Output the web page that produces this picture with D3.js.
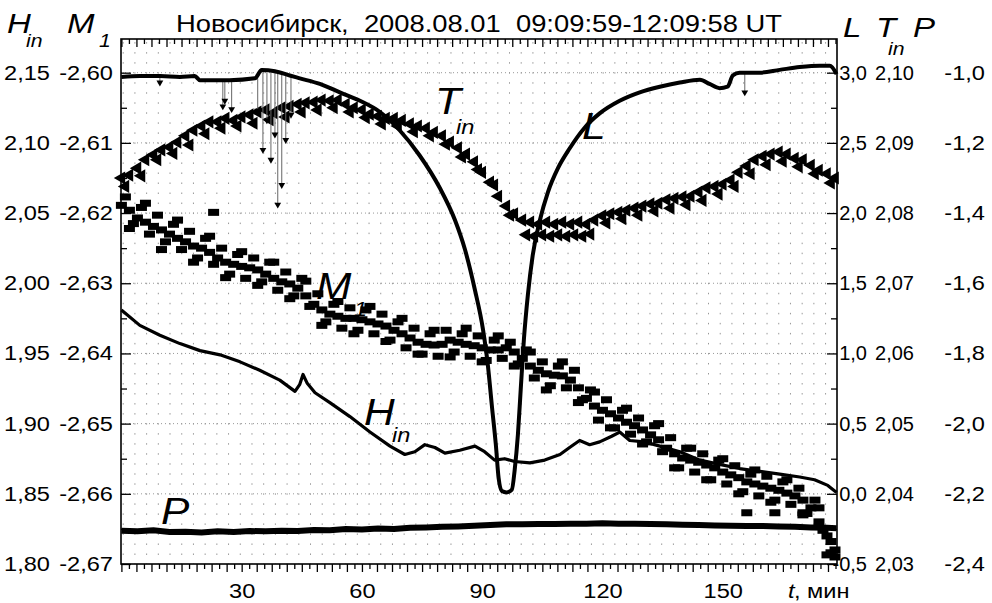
<!DOCTYPE html>
<html>
<head>
<meta charset="utf-8">
<script src="https://cdn.jsdelivr.net/npm/d3@7"></script>
<style>
body { margin: 0; background: #fff; }
text { font-family: "Liberation Sans", Arial, sans-serif; fill: #000; }
</style>
</head>
<body>
<script>
// ---- data, t in minutes from 09:09:59 UT ----
var titleText = "Новосибирск,  2008.08.01  09:09:59-12:09:58 UT";
var xLabels = [30, 60, 90, 120, 150];
var hTicks = [1.80, 1.85, 1.90, 1.95, 2.00, 2.05, 2.10, 2.15];
var mTicks = [-2.67, -2.66, -2.65, -2.64, -2.63, -2.62, -2.61, -2.60];
var lTicks = [-0.5, 0.0, 0.5, 1.0, 1.5, 2.0, 2.5, 3.0];
var tTicks = [2.03, 2.04, 2.05, 2.06, 2.07, 2.08, 2.09, 2.10];
var pTicks = [-2.4, -2.2, -2.0, -1.8, -1.6, -1.4, -1.2, -1.0];
var hMinor = [1.825, 1.875, 1.925, 1.975, 2.025, 2.075, 2.125];

// L (right axis), black line
var L = [[0,2.97],[4.6,2.976],[9.6,2.976],[14.6,2.97],[18.3,2.976],[19.6,2.947],[27,2.947],[33.3,2.96],
  [35,3.019],[38.3,3.01],[42,2.98],[44.5,2.96],[49.5,2.92],[54.5,2.86],[59.5,2.80],[64.5,2.72],[69.4,2.59],
  [74.4,2.41],[79.4,2.18],[83.2,1.95],[85.7,1.74],[88.2,1.45],[90.2,1.17],[91.4,0.92],[92.4,0.63],[93.4,0.35],
  [94.1,0.11],[94.9,0.02],[96.1,0.01],[97.4,0.03],[98.1,0.17],[98.9,0.42],[99.6,0.74],[100.4,1.10],[101.4,1.42],
  [102.6,1.70],[104.4,1.95],[106.4,2.15],[108.9,2.32],[111.8,2.46],[115.6,2.61],[119.3,2.71],[124.3,2.80],
  [129.3,2.86],[134.3,2.90],[139.3,2.93],[144.3,2.95],[146.7,2.92],[149.2,2.89],[151.2,2.90],[152.5,2.98],
  [154.2,3.00],[159.2,3.00],[164.2,3.02],[169.2,3.04],[174.2,3.05],[176.7,3.05],[178.4,2.99]];
// L drop-outs: t, from, to
var Lspikes = [[9.6,2.97,2.93],[25.3,2.95,2.76],[25.8,2.95,2.80],[27.5,2.95,2.74],[34,2.96,2.73],[35.3,3.0,2.45],
  [36.3,3.0,2.66],[37.3,3.0,2.38],[38.3,3.0,2.56],[39,3.0,2.06],[40,2.99,2.20],[41,2.98,2.52],[42.3,2.97,2.70],
  [155.5,3.0,2.86]];

// H_in (left outer axis), line
var Hin = [[0,1.981],[4.6,1.970],[9.6,1.963],[14.6,1.957],[19.6,1.952],[24.6,1.949],[29.6,1.944],[34.5,1.938],
  [39.5,1.931],[43.3,1.923],[44.5,1.928],[45.3,1.935],[46.3,1.929],[48.3,1.922],[52,1.915],[57,1.905],[62,1.894],
  [67,1.884],[70.7,1.878],[73.2,1.880],[75.7,1.885],[78.2,1.883],[80.7,1.879],[84.4,1.881],[88.2,1.884],
  [90.6,1.880],[93.1,1.874],[95.6,1.875],[98.1,1.873],[101.9,1.872],[105.6,1.874],[109.4,1.878],[111.8,1.883],
  [114.3,1.888],[116.8,1.885],[119.3,1.887],[122.3,1.891],[124.3,1.894],[126.8,1.888],[130.5,1.887],
  [134.3,1.884],[139.3,1.880],[144.3,1.874],[149.2,1.871],[154.2,1.868],[159.2,1.866],[164.2,1.864],
  [169.2,1.862],[172.9,1.860],[176.2,1.856],[178.4,1.851]];

// P (right outer axis), line
var P = [[0,-2.305],[4,-2.307],[8,-2.304],[12,-2.309],[16,-2.308],[20,-2.310],[24,-2.307],[28,-2.309],
  [32,-2.306],[36,-2.307],[40,-2.305],[44,-2.306],[48,-2.303],[52,-2.304],[56,-2.300],[60,-2.302],[64,-2.299],
  [68,-2.300],[72,-2.297],[76,-2.296],[80,-2.294],[84,-2.293],[88,-2.291],[92,-2.289],[96,-2.287],[100,-2.287],
  [104,-2.286],[108,-2.286],[112,-2.285],[116,-2.285],[120,-2.284],[124,-2.285],[128,-2.285],[132,-2.286],
  [136,-2.287],[140,-2.288],[144,-2.289],[148,-2.290],[152,-2.291],[156,-2.292],[160,-2.292],[164,-2.293],
  [168,-2.294],[172,-2.296],[176,-2.297],[178.4,-2.298]];

// T_in (right middle axis), left triangles
var Tin = [[0,2.0850],[2,2.0854],[4,2.0864],[6,2.0876],[8,2.0883],[10,2.0890],[12,2.0894],[14,2.0901],[16,2.0910],
  [18,2.0918],[20,2.0924],[22,2.0930],[24,2.0930],[26,2.0935],[28,2.0932],[30,2.0937],[32,2.0940],[34,2.0944],
  [36,2.0947],[38,2.0943],[40,2.0950],[42,2.0952],[44,2.0955],[46,2.0957],[48,2.0958],[50,2.0961],[52,2.0960],
  [54,2.0961],[56,2.0955],[58,2.0950],[60,2.0947],[62,2.0941],[64,2.0938],[66,2.0935],[68,2.0935],[70,2.0932],
  [72,2.0927],[74,2.0924],[76,2.0921],[78,2.0915],[80,2.0910],[82,2.0901],[84,2.0893],[86,2.0884],[88,2.0873],
  [90,2.0858],[92,2.0844],[94,2.0824],[96,2.0810],[98,2.0799],[100,2.0790],[102,2.0787],[104,2.0784],[106,2.0787],
  [108,2.0784],[110,2.0787],[112,2.0784],[114,2.0787],[116,2.0784],[118,2.0790],[120,2.0796],[122,2.0799],
  [124,2.0801],[126,2.0804],[128,2.0807],[130,2.0810],[132,2.0813],[134,2.0814],[136,2.0819],[138,2.0821],
  [140,2.0823],[142,2.0824],[144,2.0830],[146,2.0836],[148,2.0838],[150,2.0841],[152,2.0847],[154,2.0858],
  [156,2.0867],[158,2.0876],[160,2.0881],[162,2.0884],[164,2.0887],[166,2.0884],[168,2.0878],[170,2.0876],
  [172,2.0868],[174,2.0861],[176,2.0856],[178,2.0850]];
var TinB = [[1,2.0838],[5,2.0853],[9,2.0876],[13,2.0885],[17,2.0897],[21,2.0913],[25,2.0921],[29,2.0924],
  [33,2.0928],[37,2.0933],[41,2.0937],[45,2.0944],[49,2.0947],[53,2.0950],[57,2.0944],[61,2.0936],[65,2.0927],
  [69,2.0924],[73,2.0916],[77,2.0910],[81,2.0898],[85,2.0880],[89,2.0862],[93,2.0840],[97,2.0797],[101,2.0769],
  [103,2.0767],[105,2.0769],[107,2.0767],[109,2.0769],[111,2.0767],[113,2.0769],[115,2.0767],[117,2.0770],
  [121,2.0786],[125,2.0792],[129,2.0797],[133,2.0803],[137,2.0807],[141,2.0812],[145,2.0818],[149,2.0827],
  [153,2.0838],[157,2.0856],[161,2.0869],[165,2.0874],[169,2.0866],[173,2.0856],[177,2.0843]];

// M1 (left inner axis), squares
var M1 = [[0,-2.6189],[2,-2.6196],[4,-2.6207],[6,-2.6213],[8,-2.6219],[10,-2.6224],[12,-2.6230],[14,-2.6236],
  [16,-2.6241],[18,-2.6247],[20,-2.6250],[22,-2.6256],[24,-2.6264],[26,-2.6270],[28,-2.6273],[30,-2.6276],
  [32,-2.6278],[34,-2.6281],[36,-2.6287],[38,-2.6293],[40,-2.6298],[42,-2.6301],[44,-2.6307],[46,-2.6318],
  [48,-2.6330],[50,-2.6338],[52,-2.6344],[54,-2.6347],[56,-2.6350],[58,-2.6350],[60,-2.6352],[62,-2.6355],
  [64,-2.6358],[66,-2.6361],[68,-2.6367],[70,-2.6372],[72,-2.6378],[74,-2.6384],[76,-2.6387],[78,-2.6388],
  [80,-2.6387],[82,-2.6381],[84,-2.6384],[86,-2.6387],[88,-2.6389],[90,-2.6392],[92,-2.6395],[94,-2.6395],
  [96,-2.6392],[98,-2.6398],[100,-2.6407],[102,-2.6418],[104,-2.6424],[106,-2.6429],[108,-2.6431],[110,-2.6432],
  [112,-2.6438],[114,-2.6449],[116,-2.6464],[118,-2.6475],[120,-2.6481],[122,-2.6486],[124,-2.6492],[126,-2.6498],
  [128,-2.6503],[130,-2.6509],[132,-2.6516],[134,-2.6523],[136,-2.6535],[138,-2.6543],[140,-2.6549],[142,-2.6552],
  [144,-2.6555],[146,-2.6559],[148,-2.6563],[150,-2.6569],[152,-2.6573],[154,-2.6577],[156,-2.6583],[158,-2.6586],
  [160,-2.6589],[162,-2.6592],[164,-2.6595],[166,-2.6599],[168,-2.6603],[170,-2.6609],[172,-2.6620],[174,-2.6640],
  [176,-2.6660],[178,-2.6680]];
var M1b = [[1,-2.6177],[3,-2.6215],[5,-2.6192],[7,-2.6230],[9,-2.6203],[11,-2.6241],[13,-2.6216],[15,-2.6252],
  [17,-2.6226],[19,-2.6264],[21,-2.6236],[23,-2.6273],[25,-2.6250],[27,-2.6287],[29,-2.6259],[31,-2.6293],
  [33,-2.6264],[35,-2.6298],[37,-2.6270],[39,-2.6310],[41,-2.6284],[43,-2.6318],[45,-2.6293],[47,-2.6333],
  [49,-2.6315],[51,-2.6355],[53,-2.6330],[55,-2.6364],[57,-2.6335],[59,-2.6367],[61,-2.6338],[63,-2.6372],
  [65,-2.6344],[67,-2.6381],[69,-2.6355],[71,-2.6392],[73,-2.6364],[75,-2.6401],[77,-2.6372],[79,-2.6404],
  [81,-2.6367],[83,-2.6398],[85,-2.6372],[87,-2.6404],[89,-2.6375],[91,-2.6410],[93,-2.6381],[95,-2.6407],
  [97,-2.6384],[99,-2.6415],[101,-2.6395],[103,-2.6435],[105,-2.6412],[107,-2.6446],[109,-2.6418],[111,-2.6449],
  [113,-2.6424],[115,-2.6466],[117,-2.6452],[119,-2.6495],[121,-2.6466],[123,-2.6506],[125,-2.6481],[127,-2.6515],
  [129,-2.6492],[131,-2.6526],[133,-2.6503],[135,-2.6540],[137,-2.6520],[139,-2.6563],[141,-2.6535],[143,-2.6569],
  [145,-2.6543],[147,-2.6580],[149,-2.6552],[151,-2.6586],[153,-2.6560],[155,-2.6597],[157,-2.6572],[159,-2.6603],
  [161,-2.6575],[163,-2.6609],[165,-2.6583],[167,-2.6615],[169,-2.6592],[171,-2.6628],[173,-2.6609],[175,-2.6652],
  [177,-2.6668],[156,-2.6627],[163,-2.6627],[170,-2.6627],[176,-2.6687],[178,-2.6690],[23,-2.6199]];
var M1c = [[2,-2.6222],[6,-2.6186],[10,-2.6252],[14,-2.6210],[18,-2.6270],[22,-2.6233],[26,-2.6292],[30,-2.6255],
  [34,-2.6303],[38,-2.6270],[42,-2.6322],[46,-2.6297],[50,-2.6360],[54,-2.6326],[58,-2.6372],[62,-2.6333],
  [66,-2.6383],[70,-2.6350],[74,-2.6401],[78,-2.6367],[82,-2.6405],[86,-2.6364],[90,-2.6412],[94,-2.6375],
  [98,-2.6418],[102,-2.6398],[106,-2.6452],[110,-2.6412],[114,-2.6470],[118,-2.6455],[122,-2.6506],[126,-2.6478],
  [130,-2.6529],[134,-2.6500],[138,-2.6563],[142,-2.6535],[146,-2.6580],[150,-2.6550],[154,-2.6600],[158,-2.6566],
  [162,-2.6612],[166,-2.6580],[170,-2.6630],[174,-2.6620],[177,-2.6684]];

// ---- layout ----
var W = 992, Hpx = 603;
var plotL = 121, plotR = 837, plotT = 39, plotB = 564;
var stretch = 1.18;

var loc = d3.formatLocale({decimal: ",", thousands: " ", grouping: [3], currency: ["", ""], minus: "-"});
var f2 = loc.format(".2f"), f1 = loc.format(".1f");

var x = d3.scaleLinear().domain([-0.1, 178.5]).range([plotL, plotR]);
var yH = d3.scaleLinear().domain([1.80, 2.174]).range([plotB, plotT]);
var yM = d3.scaleLinear().domain([-2.67, -2.5952]).range([plotB, plotT]);
var yL = d3.scaleLinear().domain([-0.5, 3.24]).range([plotB, plotT]);
var yT = d3.scaleLinear().domain([2.03, 2.1048]).range([plotB, plotT]);
var yP = d3.scaleLinear().domain([-2.4, -0.904]).range([plotB, plotT]);

var svg = d3.select("body").append("svg").attr("width", W).attr("height", Hpx);

// dotted grid
var grid = svg.append("g");
var rowPx = yH(1.80) - yH(1.80 + 0.05 / 7);
grid.selectAll("line.v").data(d3.range(0.45, 178.5, 2.92)).enter().append("line")
  .attr("x1", d => x(d)).attr("x2", d => x(d)).attr("y1", plotB).attr("y2", plotT)
  .attr("stroke", "#999").attr("stroke-width", 1)
  .attr("stroke-dasharray", "1.5," + (rowPx - 1.5)).attr("stroke-dashoffset", 1);
grid.selectAll("line.h").data(hTicks.slice(1)).enter().append("line")
  .attr("x1", plotL).attr("x2", plotR).attr("y1", d => yH(d)).attr("y2", d => yH(d))
  .attr("stroke", "#999").attr("stroke-width", 1).attr("stroke-dasharray", "1,3");

// P line
var lineOf = function (ys) { return d3.line().x(d => x(d[0])).y(d => ys(d[1])); };
svg.append("path").datum(P).attr("d", lineOf(yP)).attr("fill", "none")
  .attr("stroke", "#000").attr("stroke-width", 6);

// H_in line
svg.append("path").datum(Hin).attr("d", lineOf(yH)).attr("fill", "none")
  .attr("stroke", "#000").attr("stroke-width", 3.2).attr("stroke-linejoin", "round");

// M1 squares
svg.append("g").selectAll("rect").data(M1.concat(M1b, M1c)).enter().append("rect")
  .attr("x", d => x(d[0]) - 5.5).attr("y", d => yM(d[1]) - 3.5)
  .attr("width", 11).attr("height", 7).attr("fill", "#000");

// T_in triangles pointing left
var tri = d3.symbol().type(d3.symbolTriangle).size(75);
svg.append("g").selectAll("path").data(Tin.concat(TinB)).enter().append("path")
  .attr("d", tri)
  .attr("transform", d => "translate(" + x(d[0]) + "," + yT(d[1]) + ") rotate(-90)")
  .attr("fill", "#000");

// L spikes
var sp = svg.append("g");
sp.selectAll("line").data(Lspikes).enter().append("line")
  .attr("x1", d => x(d[0])).attr("x2", d => x(d[0]))
  .attr("y1", d => yL(d[1])).attr("y2", d => yL(d[2]))
  .attr("stroke", "#666").attr("stroke-width", 1);
sp.selectAll("path").data(Lspikes).enter().append("path")
  .attr("d", d3.symbol().type(d3.symbolTriangle).size(20))
  .attr("transform", d => "translate(" + x(d[0]) + "," + yL(d[2]) + ") rotate(180)")
  .attr("fill", "#000");

// L line
svg.append("path").datum(L).attr("d", d3.line().curve(d3.curveMonotoneX).x(d => x(d[0])).y(d => yL(d[1])))
  .attr("fill", "none").attr("stroke", "#000").attr("stroke-width", 4);

// frame
svg.append("rect").attr("x", plotL).attr("y", plotT).attr("width", plotR - plotL).attr("height", plotB - plotT)
  .attr("fill", "none").attr("stroke", "#000").attr("stroke-width", 1.6);

// ---- axes ----
function clean(g) { g.select(".domain").remove(); g.selectAll("text").attr("class", "s").style("font-size", "20px"); }

// left: major and minor inward ticks, M1 labels, H labels
svg.append("g").attr("transform", "translate(" + plotL + ",0)")
  .call(d3.axisLeft(yM).tickValues(mTicks).tickSize(-10).tickPadding(8).tickFormat(f2)).call(clean);
svg.append("g").attr("transform", "translate(" + plotL + ",0)")
  .call(d3.axisLeft(yH).tickValues(hMinor).tickSize(-6).tickFormat("")).call(clean);
svg.append("g").attr("transform", "translate(" + plotL + ",0)")
  .call(d3.axisLeft(yH).tickValues(hTicks).tickSize(0).tickPadding(71).tickFormat(f2)).call(clean);

// right: L, T_in, P labels, right aligned
function rightLabels(g, dxEnd, plain) {
  g.selectAll("text").attr("text-anchor", "end").attr("x", dxEnd);
  if (plain) g.selectAll("text").attr("class", "r");
}
svg.append("g").attr("transform", "translate(" + plotR + ",0)")
  .call(d3.axisRight(yL).tickValues(lTicks).tickSize(-10).tickFormat(f1)).call(clean).call(rightLabels, 30, true);
svg.append("g").attr("transform", "translate(" + plotR + ",0)")
  .call(d3.axisRight(yH).tickValues(hMinor).tickSize(-6).tickFormat("")).call(clean);
svg.append("g").attr("transform", "translate(" + plotR + ",0)")
  .call(d3.axisRight(yT).tickValues(tTicks).tickSize(0).tickFormat(f2)).call(clean).call(rightLabels, 77, true);
svg.append("g").attr("transform", "translate(" + plotR + ",0)")
  .call(d3.axisRight(yP).tickValues(pTicks).tickSize(0).tickFormat(f1)).call(clean).call(rightLabels, 148, false);

// bottom and top: dense ticks, long every 3.75 min
var xt = d3.range(0, 178.5, 1.875);
var xLong = xt.filter((d, i) => i % 2 === 0), xShort = xt.filter((d, i) => i % 2 === 1);
svg.append("g").attr("transform", "translate(0," + plotB + ")")
  .call(d3.axisBottom(x).tickValues(xLong).tickSize(8).tickFormat("")).call(clean);
svg.append("g").attr("transform", "translate(0," + plotB + ")")
  .call(d3.axisBottom(x).tickValues(xShort).tickSize(5).tickFormat("")).call(clean);
svg.append("g").attr("transform", "translate(0," + plotB + ")")
  .call(d3.axisBottom(x).tickValues(xLabels).tickSize(0).tickPadding(20).tickFormat(d3.format("d"))).call(clean);
svg.append("g").attr("transform", "translate(0," + plotT + ")")
  .call(d3.axisTop(x).tickValues(xLong).tickSize(-8).tickFormat("")).call(clean);
svg.append("g").attr("transform", "translate(0," + plotT + ")")
  .call(d3.axisTop(x).tickValues(xShort).tickSize(-5).tickFormat("")).call(clean);
svg.selectAll("g.tick line").attr("stroke", "#000").attr("stroke-width", 1.3);

// ---- texts ----
function lab(txt, px, py, size, italic, anchor) {
  return svg.append("text").attr("class", "s").attr("x", px).attr("y", py)
    .attr("text-anchor", anchor || "start")
    .style("font-size", size + "px").style("font-style", italic ? "italic" : "normal").text(txt);
}
var title = lab(titleText, 176, 32, 24, false).style("white-space", "pre").attr("class", "title");

// axis names
lab("H", 7, 33, 28, true); lab("in", 26, 47, 18, true);
lab("M", 67, 33, 28, true); lab("1", 99, 47, 18, true);
lab("L", 843, 37, 28, true);
lab("T", 876, 37, 28, true); lab("in", 888, 55, 18, true);
lab("P", 913, 37, 28, true);
lab("t", 788, 598, 20, true); lab(", мин", 794, 598, 20, false);

// curve names inside the plot
lab("T", 435, 114, 36, true); lab("in", 456, 134, 20, true);
lab("L", 582, 139, 36, true);
lab("M", 316, 299, 36, true); lab("1", 354, 316, 20, true);
lab("H", 364, 425, 36, true); lab("in", 392, 442, 20, true);
lab("P", 161, 524, 36, true);

// horizontal stretch of the original lettering
svg.selectAll("text.s").each(function () {
  var w = this.getComputedTextLength();
  d3.select(this).attr("textLength", w * stretch).attr("lengthAdjust", "spacingAndGlyphs");
});
title.attr("textLength", 606).attr("lengthAdjust", "spacingAndGlyphs");
</script>
</body>
</html>
